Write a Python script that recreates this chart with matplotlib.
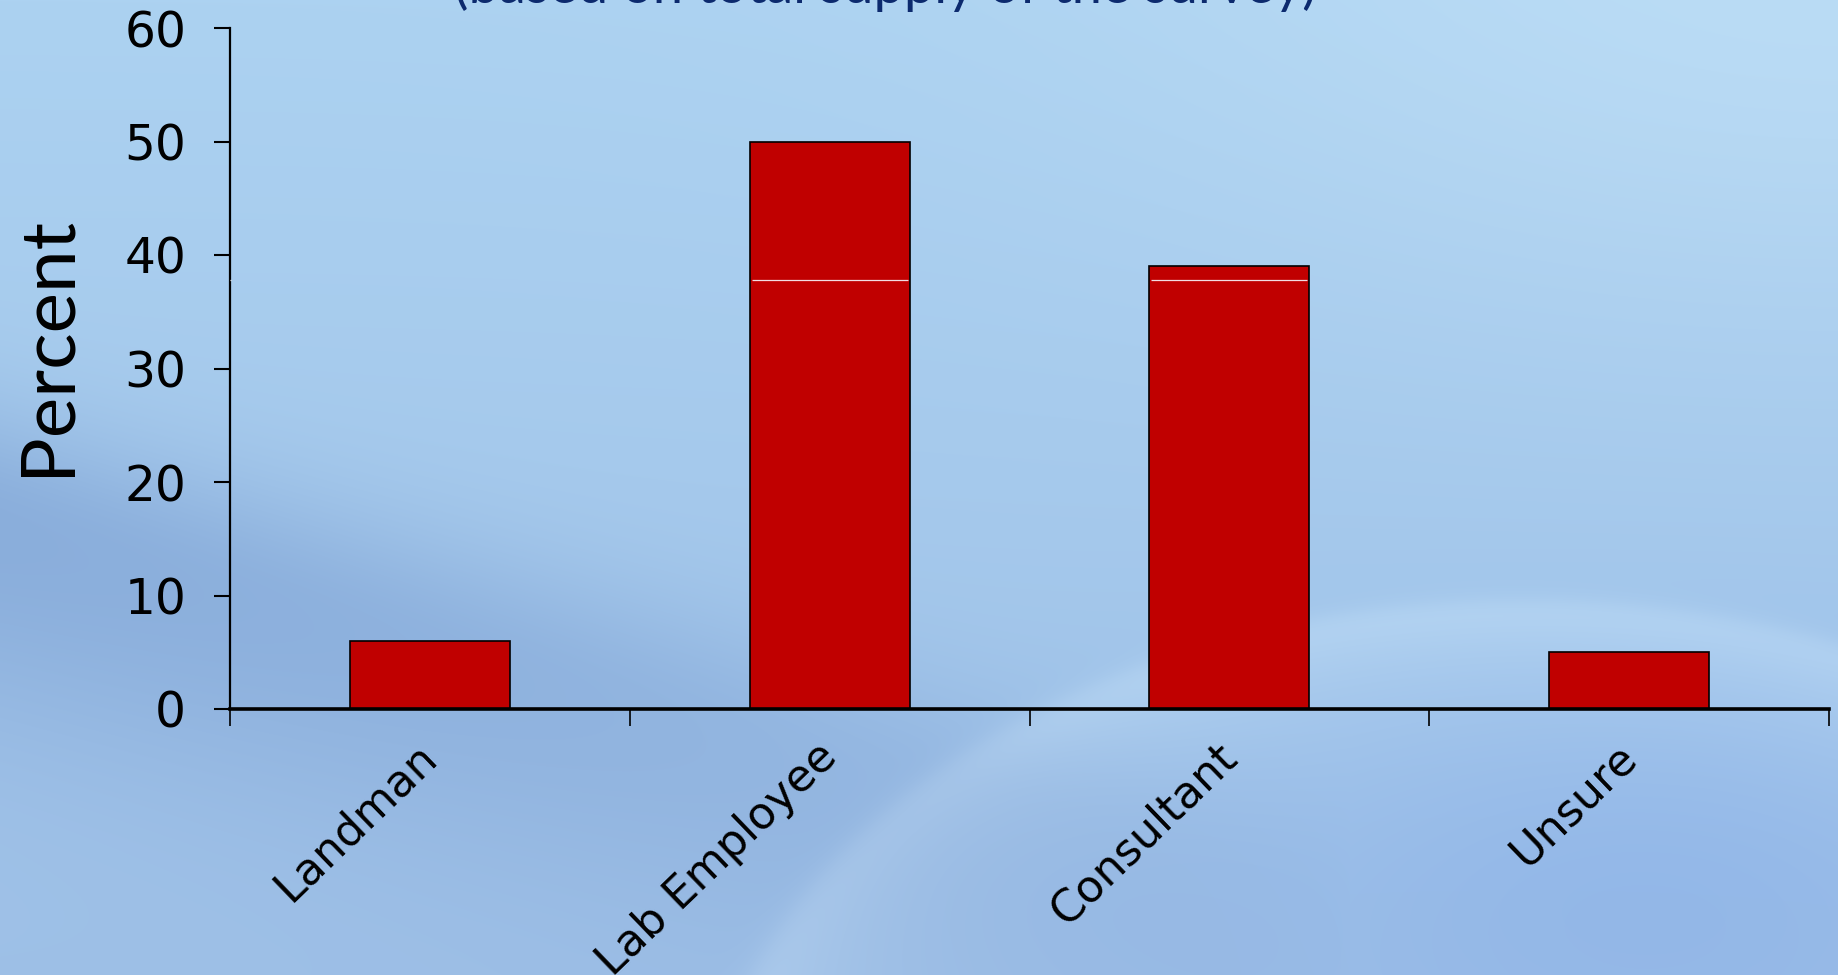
import numpy as np
import matplotlib.pyplot as plt
import matplotlib.transforms as mtransforms

categories = ['Landman', 'Lab Employee', 'Consultant', 'Unsure']
percent = [6, 50, 39, 5]
y_ticks = [0, 10, 20, 30, 40, 50, 60]
band_level = 37.8   # thin light stroke across the tall bars
subtitle = '(based on total supply of the survey)'

W, H = 1838, 975
fig = plt.figure(figsize=(W / 100, H / 100), dpi=100)

# soft blue slide background with two wave shapes
yy, xx = np.mgrid[0:H, 0:W].astype(float)
v = yy / H
top = np.array([172, 210, 241]) / 255
bot = np.array([158, 192, 231]) / 255
bg = top[None, None, :] * (1 - v[..., None]) + bot[None, None, :] * v[..., None]

# lighter top right corner
tr = np.exp(-(((xx - 1838) / 700) ** 2 + (yy / 350) ** 2))
bg += tr[..., None] * np.array([14, 10, 4]) / 255

# darker diagonal band on the left, sharper along its upper edge
c = yy - (520 + 0.28 * xx)
d = np.where(c < 0, c / 110, c / 210)
dark = np.exp(-d ** 2) * np.clip(1 - xx / 1350, 0, 1) ** 0.7
bg -= dark[..., None] * np.array([26, 26, 16]) / 255

# lighter arc rising from the bottom middle to the right
r = np.sqrt(((xx - 1524) / 820) ** 2 + ((yy - 1172) / 570) ** 2)
edge = 1 / (1 + np.exp((r - 1) / 0.012))
light = edge * np.exp(-(1 - r).clip(0) / 0.12)
bg += light[..., None] * np.array([20, 16, 8]) / 255
# purple-ish tint in lower right
pur = np.exp(-(((xx - 1650) / 400) ** 2 + ((yy - 880) / 200) ** 2))
bg -= pur[..., None] * np.array([12, 10, 0]) / 255
bg = bg.clip(0, 1)

bax = fig.add_axes([0, 0, 1, 1], zorder=-1)
bax.imshow(bg, aspect='auto', extent=[0, 1, 0, 1], interpolation='bilinear')
bax.axis('off')

ax = fig.add_axes([230 / W, 1 - 709 / H, (1829 - 230) / W, (709 - 28) / H])
ax.patch.set_alpha(0)

x = np.arange(len(categories))
bar_w = 0.4
ax.bar(x, percent, width=bar_w, color='#C00000', edgecolor='black',
       linewidth=1.2, zorder=3)
tall = [i for i, p in zip(x, percent) if p > band_level]
ax.hlines([band_level] * len(tall), [i - bar_w / 2 + 0.005 for i in tall],
          [i + bar_w / 2 - 0.005 for i in tall], color='#F2DCE2',
          linewidth=0.9, zorder=4)
# same stroke nicks the y axis line
ax.hlines(band_level, -0.5, -0.497, color='white', linewidth=0.9,
          zorder=6, clip_on=False)

ax.set_xlim(-0.5, len(categories) - 0.5)
ax.set_ylim(0, 60)
ax.set_yticks(y_ticks)
ax.set_yticklabels([str(t) for t in y_ticks], fontsize=35,
                   family='DejaVu Sans')

# ticks sit between the categories, names are placed under each bar
ax.set_xticks(np.arange(len(categories) + 1) - 0.5)
ax.set_xticklabels([])
lab_tr = ax.get_xaxis_transform() + mtransforms.ScaledTranslation(
    -14 / 100, -26 / 100, fig.dpi_scale_trans)
for xi, name in zip(x, categories):
    ax.text(xi, 0, name, transform=lab_tr, rotation=44, ha='right',
            va='top', rotation_mode='anchor', fontsize=32,
            family='DejaVu Sans')

ax.tick_params(axis='x', direction='out', length=12, width=1.2,
               color='black')
ax.tick_params(axis='y', direction='out', length=11.5, width=1.5,
               pad=20, color='black')

for s in ['top', 'right']:
    ax.spines[s].set_visible(False)
ax.spines['left'].set_linewidth(1.6)
ax.spines['bottom'].set_linewidth(2.6)
ax.spines['bottom'].set_zorder(5)

fig.text(47 / W, 1 - 346 / H, 'Percent', rotation=90, fontsize=55,
         family='Lato', ha='center', va='center')
fig.text(885 / W, 1 - 3 / H, subtitle, fontsize=39, family='Lato',
         color='#0C2A6E', ha='center', va='baseline')

fig.savefig('out.png', dpi=100)
